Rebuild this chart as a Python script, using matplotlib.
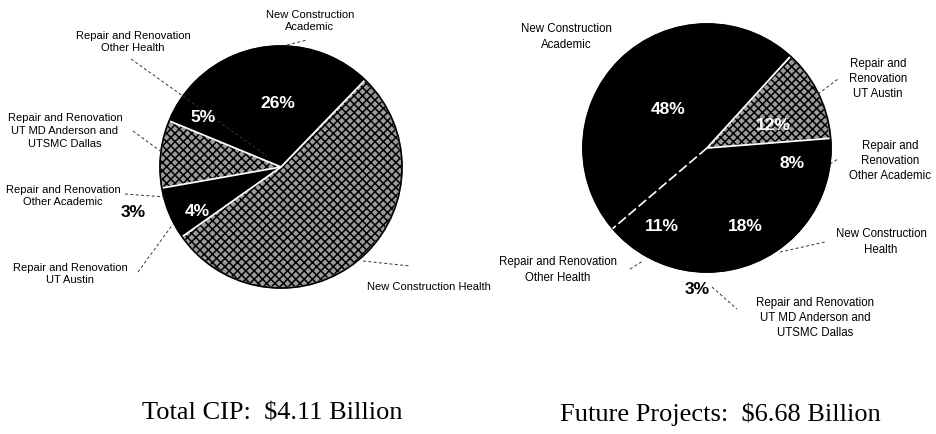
import numpy as np
import matplotlib.pyplot as plt
from matplotlib.patches import Wedge, Circle

# --- data -------------------------------------------------------------
left_names = ['New Construction\nAcademic',
              'Repair and Renovation\nOther Health',
              'Repair and Renovation\nUT MD Anderson and\nUTSMC Dallas',
              'Repair and Renovation\nOther Academic',
              'Repair and Renovation\nUT Austin',
              'New Construction Health']
left_values = [26, 5, 9, 3, 4, 53]
left_fill = ['black', 'black', 'speckle', 'black', 'black', 'speckle']
left_title = 'Total CIP:  $4.11 Billion'

right_names = ['Repair and\nRenovation\nUT Austin',
               'New Construction\nAcademic',
               'Repair and Renovation\nOther Health',
               'Repair and Renovation\nUT MD Anderson and\nUTSMC Dallas',
               'New Construction\nHealth',
               'Repair and\nRenovation\nOther Academic']
right_values = [12, 48, 11, 3, 18, 8]
right_fill = ['speckle', 'black', 'black', 'black', 'black', 'black']
right_title = 'Future Projects:  $6.68 Billion'

# --- layout (image pixel coords, y down) ---------------------------------
W, H = 937, 435
left_pie = dict(center=(281, 168), r=121, start=46)
right_pie = dict(center=(707, 149), r=124, start=4.5)

left_name_pos = [(310, 21), (133, 42), (65, 131), (63, 196), (70, 274), (429, 287)]
left_pct_pos = [(278, 103), (203, 118), None, (133, 213), (197, 212), None]
left_pct_col = ['white', 'white', None, 'black', 'white', None]
left_leaders = [[(287, 46), (307, 41)], [(131, 60), (267, 157)],
                [(133, 132), (163, 154)], [(125, 195), (165, 198)],
                [(138, 273), (173, 225)], [(363, 262), (410, 267)]]

right_name_pos = [(878, 79), (566, 37), (558, 270), (815, 318), (881, 242), (890, 161)]
right_pct_pos = [(773, 125), (668, 110), (662, 227), (697, 290), (745, 227), (792, 163)]
right_pct_col = ['white', 'white', 'white', 'black', 'white', 'white']
right_leaders = [[(818, 95), (838, 80)], [(648, 120), (648, 120)],
                 [(630, 270), (643, 262)], [(712, 288), (737, 310)],
                 [(780, 253), (825, 243)], [(830, 165), (838, 160)]]

plt.rcParams['hatch.linewidth'] = 1.1

fig = plt.figure(figsize=(W / 100, H / 100), dpi=100)
ax = fig.add_axes([0, 0, 1, 1])


def Y(y):
    return H - y


def draw(values, fill, cfg, names, name_pos, name_size, pct_pos, pct_col, leaders):
    cx, cy = cfg['center']
    c = (cx, Y(cy))
    colors = ['#9a9a9a' if f == 'speckle' else 'black' for f in fill]
    wedges, _ = ax.pie(values, colors=colors, startangle=cfg['start'],
                       counterclock=True, center=c, radius=cfg['r'],
                       wedgeprops=dict(linewidth=0.8, edgecolor='black'))
    for w, f in zip(wedges, fill):
        if f == 'speckle':
            w.set_hatch('xxxx')
            ax.add_patch(Wedge(c, cfg['r'], w.theta1, w.theta2, fill=False,
                               edgecolor='white', linewidth=1.3))
    ax.add_patch(Circle(c, cfg['r'], fill=False, edgecolor='black', linewidth=1.3))
    for n, p in zip(names, name_pos):
        ax.text(p[0], Y(p[1]), n, ha='center', va='center', fontsize=name_size,
                family='Liberation Sans', linespacing=1.35)
    for v, p, col in zip(values, pct_pos, pct_col):
        if p is not None:
            ax.text(p[0], Y(p[1]), f'{v}%', ha='center', va='center', fontsize=12.5,
                    fontweight='bold', color=col, family='Liberation Sans')
    for seg in leaders:
        xs = [s[0] for s in seg]
        ys = [Y(s[1]) for s in seg]
        ax.plot(xs, ys, color='#333333', lw=0.7, ls=(0, (3, 2.5)))
    return wedges


draw(left_values, left_fill, left_pie, left_names, left_name_pos, 8,
     left_pct_pos, left_pct_col, left_leaders)
rw = draw(right_values, right_fill, right_pie, right_names, right_name_pos, 8.3,
          right_pct_pos, right_pct_col, right_leaders)

# white split line between New Construction Academic and Other Health
cx, cy = right_pie['center']
ang = np.deg2rad(rw[1].theta2)
ax.plot([cx, cx + right_pie['r'] * np.cos(ang)], [Y(cy), Y(cy) + right_pie['r'] * np.sin(ang)],
        color='white', lw=1.2, ls=(0, (6, 2)))

ax.text(272, Y(414), left_title, ha='center', va='center', fontsize=19,
        family='Liberation Serif')
ax.text(720, Y(414), right_title, ha='center', va='center', fontsize=19,
        family='Liberation Serif')

ax.set_xlim(0, W)
ax.set_ylim(0, H)
ax.set_aspect('equal')
ax.axis('off')
fig.savefig('out.png', dpi=100)
